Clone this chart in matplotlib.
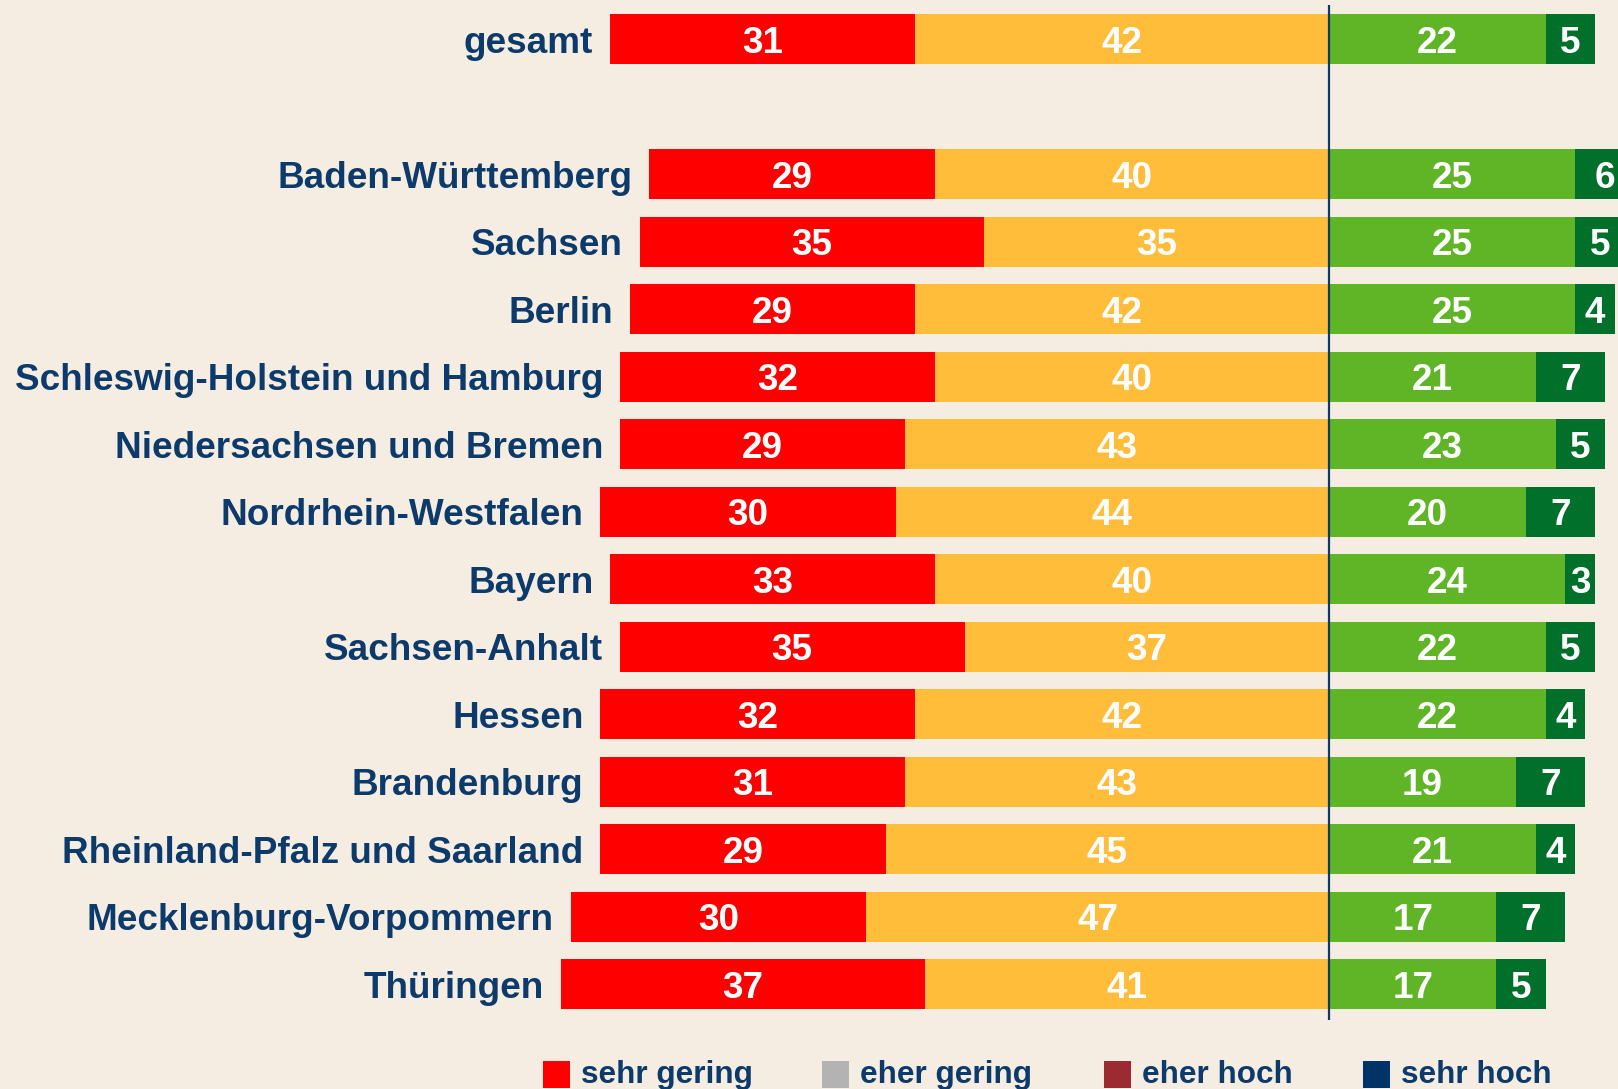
import matplotlib
matplotlib.use("Agg")
import matplotlib.pyplot as plt
from matplotlib.patches import Rectangle

categories = ["gesamt", "", "Baden-Württemberg", "Sachsen", "Berlin",
              "Schleswig-Holstein und Hamburg", "Niedersachsen und Bremen",
              "Nordrhein-Westfalen", "Bayern", "Sachsen-Anhalt", "Hessen",
              "Brandenburg", "Rheinland-Pfalz und Saarland",
              "Mecklenburg-Vorpommern", "Thüringen"]
sehr_gering = [31, None, 29, 35, 29, 32, 29, 30, 33, 35, 32, 31, 29, 30, 37]
eher_gering = [42, None, 40, 35, 42, 40, 43, 44, 40, 37, 42, 43, 45, 47, 41]
eher_hoch   = [22, None, 25, 25, 25, 21, 23, 20, 24, 22, 22, 19, 21, 17, 17]
sehr_hoch   = [5, None, 6, 5, 4, 7, 5, 7, 3, 5, 4, 7, 4, 7, 5]
legend_labels = ["sehr gering", "eher gering", "eher hoch", "sehr hoch"]

BG = "#F5EDE2"
C_RED = "#FF0000"
C_ORANGE = "#FFBD3A"
C_GREEN = "#5FB526"
C_DGREEN = "#00702A"
NAVY = "#0B3A6B"
legend_colors = ["#FF0000", "#B3B3B3", "#9C2A31", "#003468"]

W, H = 1618, 1089
fig = plt.figure(figsize=(W / 100, H / 100), dpi=100, facecolor=BG)
ax = fig.add_axes([0, 0, 1, 1])
ax.set_facecolor(BG)
ax.axis("off")

px_per_unit = 9.85
x0 = 1329
pitch = 67.5
y_first = 39.4
ax.set_xlim(-x0 / px_per_unit, (W - x0) / px_per_unit)
ax.set_ylim((H - y_first) / pitch, -y_first / pitch)

bh = 0.74
FS = 26.6
off = -0.716 * FS / 2

for i, cat in enumerate(categories):
    if sehr_gering[i] is None:
        continue
    a, b, c, d = sehr_gering[i], eher_gering[i], eher_hoch[i], sehr_hoch[i]
    segs = [(-(a + b), a, C_RED), (-b, b, C_ORANGE), (0, c, C_GREEN), (c, d, C_DGREEN)]
    vals = [a, b, c, d]
    for (left, w, col), v in zip(segs, vals):
        ax.barh(i, w, left=left, height=bh, color=col, linewidth=0)
        ax.annotate(str(v), (left + w / 2, i), xytext=(0, off), textcoords="offset points",
                    ha="center", va="baseline", color="white", fontsize=FS,
                    fontweight="bold", family="Liberation Sans")
    ax.annotate(cat, (-(a + b), i), xytext=(-12, off), textcoords="offset points",
                ha="right", va="baseline", color=NAVY, fontsize=FS,
                fontweight="bold", family="Liberation Sans")

ax.vlines(0, (5 - y_first) / pitch, (1020 - y_first) / pitch, color=NAVY, linewidth=1.6)

# legend in pixel coordinates
lax = fig.add_axes([0, 0, 1, 1])
lax.set_xlim(0, W)
lax.set_ylim(H, 0)
lax.axis("off")
lax.patch.set_alpha(0)
sq_x = [543, 822, 1104, 1363]
for x, lab, col in zip(sq_x, legend_labels, legend_colors):
    lax.add_patch(Rectangle((x, 1061), 27, 27, color=col, linewidth=0))
    lax.text(x + 38, 1083, lab, ha="left", va="baseline", color=NAVY,
             fontsize=22.7, fontweight="bold", family="Liberation Sans")

fig.savefig("out.png", dpi=100, facecolor=BG)
